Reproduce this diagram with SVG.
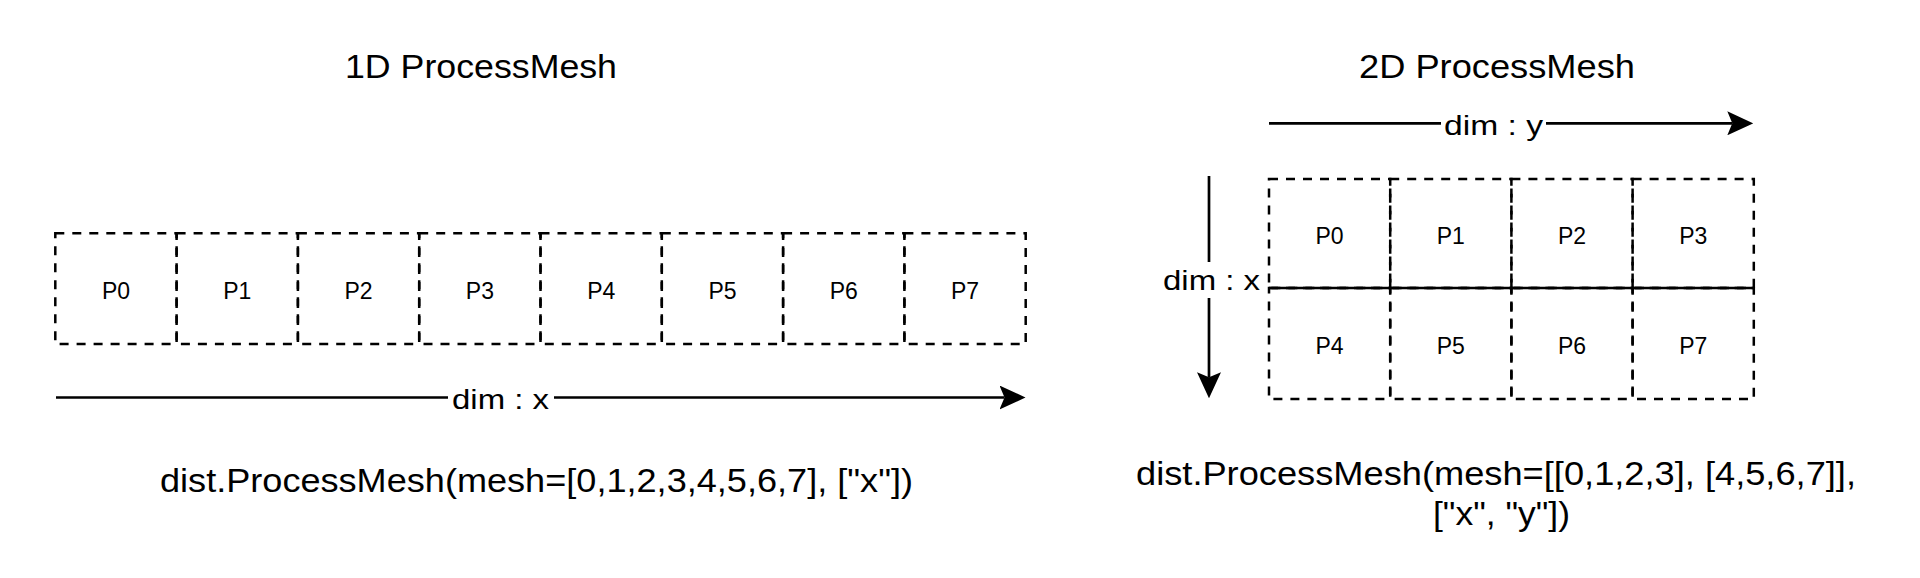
<svg xmlns="http://www.w3.org/2000/svg" width="1920" height="578" viewBox="0 0 1920 578">
  <style>
    .bg { fill: #ffffff; }
    .cell { fill: none; stroke: #000000; stroke-width: 2.5; stroke-dasharray: 9 8; }
    .cell-text { font-family: "Liberation Sans", Arial, sans-serif; font-size: 23px; fill: #000000; text-anchor: middle; }
    .title { font-family: "Liberation Sans", Arial, sans-serif; font-size: 33px; fill: #000000; }
    .code { font-family: "Liberation Sans", Arial, sans-serif; font-size: 34px; fill: #000000; }
    .dim { font-family: "Liberation Sans", Arial, sans-serif; font-size: 27px; fill: #000000; }
    .edge { fill: none; stroke: #000000; stroke-width: 2.7; }
    .divider { fill: none; stroke: #000000; stroke-width: 2.5; }
  </style>
  <defs>
    <marker id="arrow" viewBox="0 0 26 24" refX="5" refY="12" markerWidth="26" markerHeight="24" markerUnits="userSpaceOnUse" orient="auto">
      <path d="M0,0 L26,12 L0,24 L5,12 Z" fill="#000000"/>
    </marker>
  </defs>
  <rect class="bg" x="0" y="0" width="1920" height="578"/>

  <!-- Titles -->
  <g id="title-1d">
    <text class="title" x="345" y="77.5" textLength="272" lengthAdjust="spacingAndGlyphs">1D ProcessMesh</text>
  </g>
  <g id="title-2d">
    <text class="title" x="1359" y="77.5" textLength="276" lengthAdjust="spacingAndGlyphs">2D ProcessMesh</text>
  </g>

  <!-- 1D mesh cells -->
  <g id="mesh1d-p0"><rect class="cell" x="55.3" y="233.3" width="121.3" height="110.7"/><text class="cell-text" x="116" y="299">P0</text></g>
  <g id="mesh1d-p1"><rect class="cell" x="176.6" y="233.3" width="121.3" height="110.7"/><text class="cell-text" x="237.3" y="299">P1</text></g>
  <g id="mesh1d-p2"><rect class="cell" x="297.9" y="233.3" width="121.3" height="110.7"/><text class="cell-text" x="358.6" y="299">P2</text></g>
  <g id="mesh1d-p3"><rect class="cell" x="419.2" y="233.3" width="121.3" height="110.7"/><text class="cell-text" x="479.9" y="299">P3</text></g>
  <g id="mesh1d-p4"><rect class="cell" x="540.5" y="233.3" width="121.3" height="110.7"/><text class="cell-text" x="601.2" y="299">P4</text></g>
  <g id="mesh1d-p5"><rect class="cell" x="661.8" y="233.3" width="121.3" height="110.7"/><text class="cell-text" x="722.5" y="299">P5</text></g>
  <g id="mesh1d-p6"><rect class="cell" x="783.1" y="233.3" width="121.3" height="110.7"/><text class="cell-text" x="843.8" y="299">P6</text></g>
  <g id="mesh1d-p7"><rect class="cell" x="904.4" y="233.3" width="121.3" height="110.7"/><text class="cell-text" x="965.1" y="299">P7</text></g>

  <!-- 2D mesh cells -->
  <g id="mesh2d-p0"><rect class="cell" x="1269" y="179" width="121.2" height="109"/><text class="cell-text" x="1329.6" y="243.5">P0</text></g>
  <g id="mesh2d-p1"><rect class="cell" x="1390.2" y="179" width="121.2" height="109"/><text class="cell-text" x="1450.8" y="243.5">P1</text></g>
  <g id="mesh2d-p2"><rect class="cell" x="1511.4" y="179" width="121.2" height="109"/><text class="cell-text" x="1572" y="243.5">P2</text></g>
  <g id="mesh2d-p3"><rect class="cell" x="1632.6" y="179" width="121.2" height="109"/><text class="cell-text" x="1693.2" y="243.5">P3</text></g>
  <g id="mesh2d-p4"><rect class="cell" x="1269" y="288" width="121.2" height="111"/><text class="cell-text" x="1329.6" y="354">P4</text></g>
  <g id="mesh2d-p5"><rect class="cell" x="1390.2" y="288" width="121.2" height="111"/><text class="cell-text" x="1450.8" y="354">P5</text></g>
  <g id="mesh2d-p6"><rect class="cell" x="1511.4" y="288" width="121.2" height="111"/><text class="cell-text" x="1572" y="354">P6</text></g>
  <g id="mesh2d-p7"><rect class="cell" x="1632.6" y="288" width="121.2" height="111"/><text class="cell-text" x="1693.2" y="354">P7</text></g>

  <g id="mesh2d-divider">
    <line class="divider" x1="1269" y1="288" x2="1754" y2="288"/>
  </g>

  <!-- Connectors (dimension arrows) -->
  <g id="connectors">
    <g id="edge-dim-x-1d">
      <path class="edge" d="M56,397.5 H448 M554,397.5 H1004.5" marker-end="url(#arrow)"/>
      <text class="dim" x="452" y="408.5" textLength="97" lengthAdjust="spacingAndGlyphs">dim : x</text>
    </g>
    <g id="edge-dim-y-2d">
      <path class="edge" d="M1269,123.3 H1441 M1546,123.3 H1732.3" marker-end="url(#arrow)"/>
      <text class="dim" x="1444" y="134.5" textLength="99" lengthAdjust="spacingAndGlyphs">dim : y</text>
    </g>
    <g id="edge-dim-x-2d">
      <path class="edge" d="M1209,176 V262 M1209,298 V377.3" marker-end="url(#arrow)"/>
      <text class="dim" x="1163" y="289.5" textLength="97" lengthAdjust="spacingAndGlyphs">dim : x</text>
    </g>
  </g>

  <!-- Code captions -->
  <g id="caption-1d">
    <text class="code" x="160" y="492.3" textLength="753" lengthAdjust="spacingAndGlyphs">dist.ProcessMesh(mesh=[0,1,2,3,4,5,6,7], ["x"])</text>
  </g>
  <g id="caption-2d">
    <text class="code" x="1136" y="485" textLength="720" lengthAdjust="spacingAndGlyphs">dist.ProcessMesh(mesh=[[0,1,2,3], [4,5,6,7]],</text>
    <text class="code" x="1433" y="525" textLength="137" lengthAdjust="spacingAndGlyphs">["x", "y"])</text>
  </g>
</svg>
